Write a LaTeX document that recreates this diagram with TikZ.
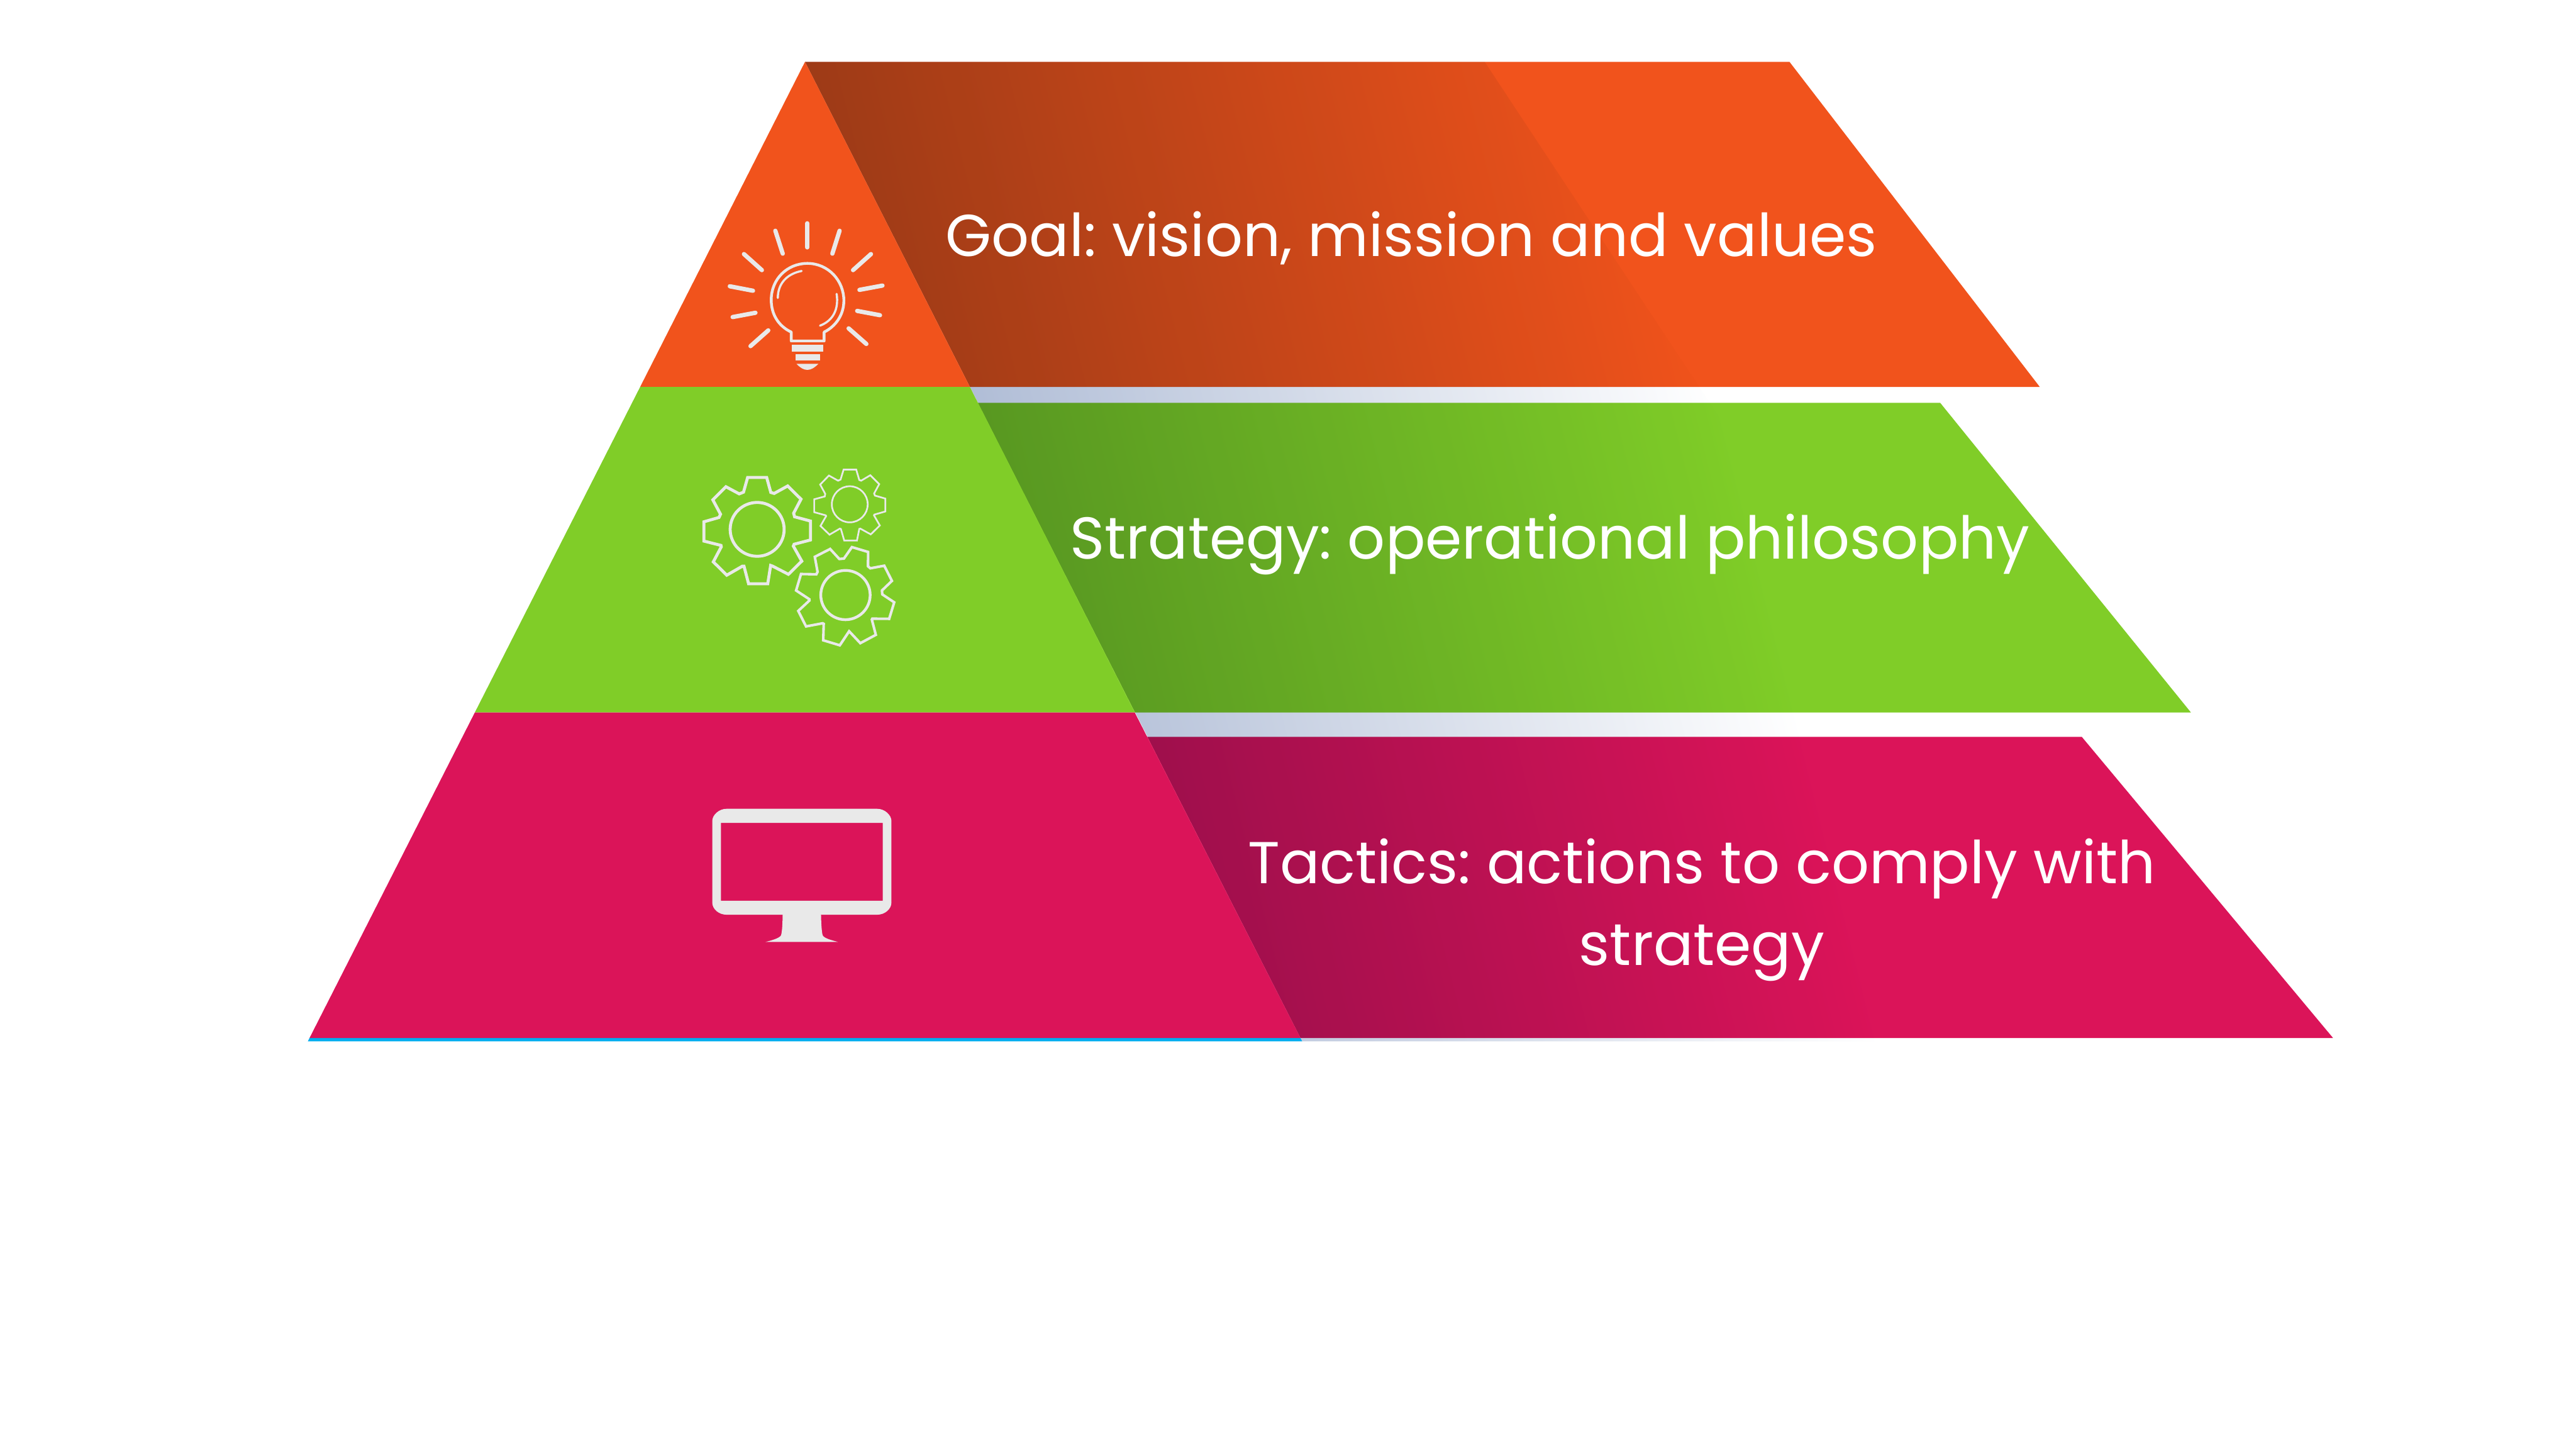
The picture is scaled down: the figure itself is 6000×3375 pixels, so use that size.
\documentclass[tikz,border=0pt]{standalone}
\usepackage{fontspec}
\setmainfont{Poppins}
\frenchspacing
\definecolor{orangeband}{HTML}{F1531C}
\definecolor{greenband}{HTML}{80CD28}
\definecolor{pinkband}{HTML}{DB1459}
\definecolor{iconlight}{HTML}{E9E9E9}
\definecolor{shadowstart}{HTML}{A4B3D0}
\definecolor{shadowmid}{HTML}{DCE2EE}
\definecolor{bluestrip}{HTML}{00ADEF}
\tikzset{
  pxw/.style={line width=#1*0.2845pt},
  label/.style={text=white,font=\fontsize{39.1pt}{54.3pt}\selectfont,inner sep=0pt,outer sep=0pt},
  ray/.style={draw=iconlight,pxw=10,line cap=round},
  glow/.style={draw=iconlight,pxw=5,line cap=round},
  outline/.style={draw=iconlight,line join=miter}
}
\begin{document}
\begin{tikzpicture}[x=0.01cm,y=-0.01cm]
\useasboundingbox (0,0) rectangle (6000,3375);
\fill[white] (0,0) rectangle (6000,3375);
% named corner points
\coordinate (apex) at (1875,144);
\coordinate (l1) at (1491,901);
\coordinate (r1) at (2259,901);
\coordinate (l2) at (1106,1659);
\coordinate (r2) at (2643,1659);
\coordinate (l3) at (721,2417);
\coordinate (r3) at (3029,2417);
% right hand bands
\fill[orangeband] (apex) -- (4168,144) -- (4751,901) -- (r1) -- cycle;
\fill[greenband] (2277,938) -- (4519,938) -- (5103,1659) -- (r2) -- cycle;
\fill[pinkband] (2672,1716) -- (4849,1716) -- (5434,2417) -- (r3) -- cycle;
% shadow laid over everything, multiplied
\begin{scope}
  \clip (apex) -- (3458,144) -- (4963,2425) -- (3033,2425) -- cycle;
  \begin{scope}[blend mode=multiply]
  \begin{scope}[transform canvas={rotate around={14:(1800,144)}}]
    \shade[left color=shadowstart,middle color=shadowmid,right color=white] (1800,-2856) rectangle (3750,3144);
  \end{scope}
  \end{scope}
\end{scope}
% base line and pyramid
\fill[bluestrip] (l3) -- (r3) -- (3033,2425) -- (717,2425) -- cycle;
\fill[orangeband] (apex) -- (r1) -- (l1) -- cycle;
\fill[greenband] (l1) -- (r1) -- (r2) -- (l2) -- cycle;
\fill[pinkband] (l2) -- (r2) -- (r3) -- (l3) -- cycle;
% labels
\node[label,anchor=base] (goal) at (3287,597) {Goal: vision, mission and values};
\node[label,anchor=base] (strat) at (3610,1301) {Strategy: operational philosophy};
\node[label,anchor=base,align=center] (tact) at (3964,2248) {Tactics: actions to comply with\\strategy};
% bulb
\begin{scope}[shift={(1600,450)},xscale=0.3827,yscale=0.3333]
  \draw[ray] (733,210)--(733,378);
  \draw[ray] (538,262)--(583,422);
  \draw[ray] (929,262)--(885,422);
  \draw[ray] (347,425)--(456,537);
  \draw[ray] (1120,425)--(1011,537);
  \draw[ray] (261,650)--(402,681);
  \draw[ray] (1190,645)--(1050,675);
  \draw[ray] (278,865)--(417,835);
  \draw[ray] (1175,852)--(1036,822);
  \draw[ray] (387,1068)--(495,958);
  \draw[ray] (1092,1053)--(984,944);
  \draw[draw=iconlight,pxw=6.5,line join=round]
    (635,970) .. controls (560,930) and (513,850) .. (513,745)
    .. controls (513,600) and (610,490) .. (733,490)
    .. controls (860,490) and (955,610) .. (955,750)
    .. controls (955,850) and (905,930) .. (835,970)
    -- (835,1032) -- (635,1032) -- cycle;
  \draw[glow] (553,732) .. controls (553,640) and (600,565) .. (698,543);
  \draw[glow] (911,703) .. controls (925,810) and (890,890) .. (810,925);
  \fill[iconlight] (640,1060) rectangle (830,1106);
  \fill[iconlight] (661,1122) rectangle (809,1168);
  \fill[iconlight] (667,1192) -- (800,1192) .. controls (775,1220) and (755,1234) .. (733,1234)
    .. controls (710,1234) and (690,1220) .. (667,1192) -- cycle;
\end{scope}
% gears
\begin{scope}[shift={(1580,1050)},xscale=0.3571,yscale=0.3333]
  \draw[outline,pxw=7] (452,185)--(576,185)--(603,290)--(625,297)--(713,245)--(800,337)--(752,435)--(758,460)--(862,490)--(862,622)--(755,652)--(750,665)--(805,770)--(718,862)--(615,805)--(602,800)--(583,928)--(458,928)--(428,805)--(418,805)--(316,868)--(228,775)--(280,670)--(278,660)--(167,630)--(167,495)--(265,465)--(275,442)--(225,342)--(310,250)--(397,300)--(425,288)--cycle;
  \draw[draw=iconlight,pxw=7] (514,548) ellipse [x radius=176,y radius=188];
  \draw[outline,pxw=4] (1078,130)--(1160,130)--(1180,203)--(1192,208)--(1252,170)--(1310,232)--(1277,297)--(1282,312)--(1350,333)--(1350,423)--(1278,445)--(1276,450)--(1314,521)--(1255,583)--(1187,543)--(1180,545)--(1165,626)--(1082,626)--(1060,545)--(1053,543)--(986,585)--(927,524)--(964,455)--(961,450)--(886,428)--(886,338)--(955,318)--(958,300)--(925,235)--(982,172)--(1042,208)--(1058,200)--cycle;
  \draw[draw=iconlight,pxw=4] (1118,373) ellipse [x radius=117,y radius=126];
  \draw[outline,pxw=6] (1132,672)--(1238,706)--(1237,806)--(1252,820)--(1343,802)--(1393,908)--(1328,975)--(1330,1002)--(1408,1058)--(1375,1173)--(1265,1172)--(1262,1178)--(1288,1285)--(1187,1343)--(1114,1260)--(1053,1358)--(945,1323)--(948,1208)--(942,1204)--(833,1226)--(782,1118)--(855,1045)--(854,1036)--(768,975)--(800,860)--(900,862)--(908,845)--(890,740)--(990,685)--(1050,755)--(1080,752)--cycle;
  \draw[draw=iconlight,pxw=6.5] (1090,1007) ellipse [x radius=161,y radius=172];
\end{scope}
% monitor
\begin{scope}[shift={(1620,1850)},scale=0.3333]
  \fill[iconlight,even odd rule]
    (217,100) -- (1269,100) .. controls (1324,100) and (1369,145) .. (1369,185)
    -- (1369,755) .. controls (1369,800) and (1324,840) .. (1269,840)
    -- (217,840) .. controls (162,840) and (117,800) .. (117,755)
    -- (117,185) .. controls (117,145) and (162,100) .. (217,100) -- cycle
    (178,198) rectangle (1308,742);
  \fill[iconlight] (609,830) -- (609,840) .. controls (608,900) and (605,965) .. (597,985)
    .. controls (585,1005) and (530,1020) .. (490,1030) -- (995,1030)
    .. controls (950,1018) and (900,1005) .. (889,985)
    .. controls (882,965) and (878,900) .. (877,840) -- (877,830) -- cycle;
\end{scope}
\end{tikzpicture}
\end{document}
